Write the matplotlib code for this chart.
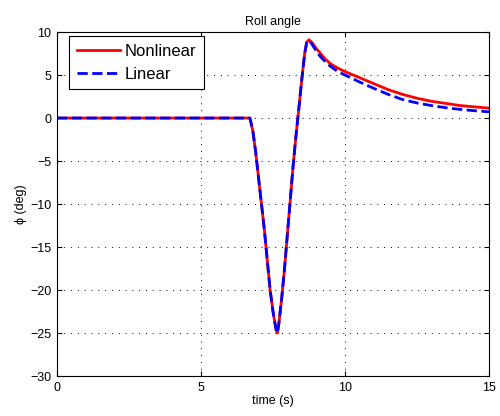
import numpy as np
import matplotlib.pyplot as plt

plt.rcParams['font.family'] = ['Liberation Sans', 'DejaVu Sans']

# time samples (s)
t = [0, 6.7, 6.8, 6.9, 7.0, 7.1, 7.2, 7.3, 7.4, 7.5, 7.6, 7.65, 7.7, 7.8, 7.9,
     8.0, 8.1, 8.2, 8.3, 8.4, 8.5, 8.6, 8.67, 8.75, 8.85, 9.0, 9.13, 9.3, 9.5,
     9.75, 10.0, 10.5, 11.0, 11.5, 12.0, 12.5, 13.0, 13.5, 14.0, 14.5, 15.0]

# roll angle (deg)
phi_nonlinear = [0, 0, -1.5, -4, -7, -10, -13, -16.5, -20, -22.5, -24.5, -25, -24,
                 -21, -17.5, -13.5, -9.5, -5.5, -2.0, 1.2, 4.5, 7.5, 8.8, 9.1, 8.8,
                 8.1, 7.6, 6.9, 6.3, 5.8, 5.4, 4.7, 4.0, 3.3, 2.75, 2.3, 1.95, 1.7,
                 1.45, 1.3, 1.15]
phi_linear = [0, 0, -1.5, -4, -7, -10, -13, -16.5, -20, -22.5, -24.5, -25, -24,
              -21, -17.5, -13.5, -9.5, -5.5, -2.0, 1.2, 4.5, 7.5, 8.8, 9.0, 8.6,
              7.8, 7.2, 6.6, 6.0, 5.4, 5.0, 4.2, 3.45, 2.75, 2.15, 1.75, 1.45, 1.2,
              1.0, 0.85, 0.72]

fig = plt.figure(figsize=(5, 4.16), dpi=100)
ax = fig.add_axes([0.114, 0.096, 0.864, 0.827])

ax.plot(t, phi_nonlinear, '-', color='red', linewidth=2, label='Nonlinear')
ax.plot(t, phi_linear, '--', color='blue', linewidth=2, label='Linear')

ax.set_xlim(0, 15)
ax.set_ylim(-30, 10)
ax.set_xticks([0, 5, 10, 15])
ax.set_yticks(np.arange(-30, 11, 5))
ax.grid(True, linestyle=(0, (1, 6)), color='black', linewidth=0.7)
ax.tick_params(direction='in', top=True, right=True, labelsize=9, pad=4)
ax.set_xlabel('time (s)', fontsize=9, labelpad=1)
ax.set_ylabel('\u03d5 (deg)', fontsize=9, labelpad=2)
ax.set_title('Roll angle', fontsize=9, pad=5)

leg = ax.legend(loc='upper left', bbox_to_anchor=(0.028, 0.988), borderaxespad=0,
                fontsize=12, fancybox=False, framealpha=1, edgecolor='black',
                handlelength=2.6, labelspacing=0.5, handletextpad=0.3,
                borderpad=0.45)
leg.get_frame().set_linewidth(0.8)

fig.savefig('out.png', dpi=100)
